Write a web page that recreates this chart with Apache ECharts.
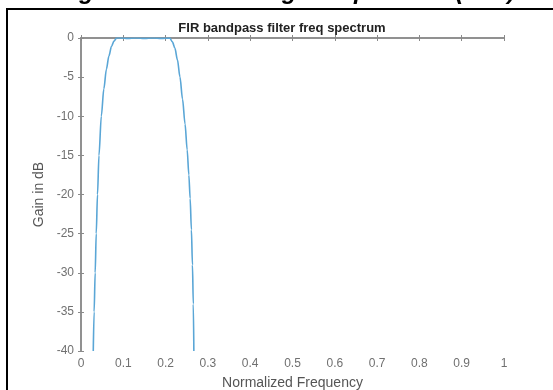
<!DOCTYPE html>
<html><head><meta charset="utf-8">
<script src="https://cdn.jsdelivr.net/npm/echarts@6/dist/echarts.min.js"></script>
<style>html,body{margin:0;padding:0;background:#fff}#c{width:553px;height:390px}</style>
</head><body><div id="c"></div>
<script>
const freq = [0.029,0.031,0.0335,0.036,0.039,0.0425,0.048,0.054,0.060,0.066,0.072,0.078,0.084,0.095,0.11,0.13,0.15,0.17,0.19,0.21,0.216,0.222,0.228,0.234,0.240,0.246,0.251,0.255,0.258,0.261,0.2635,0.2655,0.2668];
const gain = [-40,-35,-30,-25,-20,-15,-10,-6.5,-4,-2.3,-1.1,-0.4,0,0,-0.05,0,-0.05,0,-0.05,0,-0.5,-1.3,-2.8,-5,-7.8,-11,-14.3,-17.5,-20.5,-24.5,-29,-34,-40];
const xTicks = [0,0.1,0.2,0.3,0.4,0.5,0.6,0.7,0.8,0.9,1];
const yTicks = [0,-5,-10,-15,-20,-25,-30,-35,-40];
const titleText = 'FIR bandpass filter freq spectrum';
const captionText = 'Figure 6: Filtered Signal Spectrum (FFT)';

const chart = echarts.init(document.getElementById('c'), null, {renderer:'canvas'});
const axisCol = '#8a8a8a';
const labCol = '#707070';
const fmt = v => (Math.round(v*10)/10).toString();
chart.setOption({
  animation:false,
  backgroundColor:'#fff',
  title:{text:titleText,left:277,top:17,textAlign:'center',textStyle:{fontFamily:'Liberation Sans, Arial',fontSize:13,fontWeight:'bold',color:'#222'}},
  graphic:[
    {type:'rect',shape:{x:7,y:9,width:620,height:420},style:{fill:'none',stroke:'#000',lineWidth:2},z:100},
    {type:'text',left:58,top:-20,style:{text:captionText,font:'italic bold 24px Liberation Sans, Arial',fill:'#000'},z:100}
  ],
  grid:{left:81,right:49,top:38,bottom:39,containLabel:false,outerBoundsMode:'none'},
  xAxis:[
    {type:'value',min:0,max:1,interval:0.1,position:'bottom',
     name:'Normalized Frequency',nameLocation:'middle',nameGap:25,
     nameTextStyle:{fontFamily:'Liberation Sans, Arial',fontSize:14,color:'#555'},
     axisLine:{show:true,lineStyle:{color:axisCol,width:1.5}},
     axisTick:{show:true,inside:true,length:3,lineStyle:{color:axisCol}},
     axisLabel:{fontFamily:'Liberation Sans, Arial',fontSize:12,color:labCol,margin:7,formatter:fmt},
     splitLine:{show:false}},
    {type:'value',min:0,max:1,interval:0.1,position:'top',
     axisLine:{show:true,lineStyle:{color:axisCol,width:1.5}},
     axisTick:{show:true,inside:true,length:3,lineStyle:{color:axisCol}},
     axisLabel:{show:false},splitLine:{show:false}}
  ],
  yAxis:[
    {type:'value',min:-40,max:0,interval:5,position:'left',
     name:'Gain in dB',nameLocation:'middle',nameGap:30,
     nameTextStyle:{fontFamily:'Liberation Sans, Arial',fontSize:14,color:'#555'},
     axisLine:{show:true,lineStyle:{color:axisCol,width:1.5}},
     axisTick:{show:true,inside:true,length:3,lineStyle:{color:axisCol}},
     axisLabel:{fontFamily:'Liberation Sans, Arial',fontSize:12,color:labCol,margin:7},
     splitLine:{show:false}},
    {type:'value',min:-40,max:0,interval:5,position:'right',
     axisLine:{show:true,lineStyle:{color:axisCol,width:1.5}},
     axisTick:{show:true,inside:true,length:3,lineStyle:{color:axisCol}},
     axisLabel:{show:false},splitLine:{show:false}}
  ],
  series:[{
    type:'line',xAxisIndex:0,yAxisIndex:0,
    data:freq.map((f,i)=>[f,gain[i]]),
    showSymbol:false,smooth:0.3,smoothMonotone:'x',clip:true,
    lineStyle:{color:'#5aa6d6',width:1.6}
  }]
});
</script></body></html>
